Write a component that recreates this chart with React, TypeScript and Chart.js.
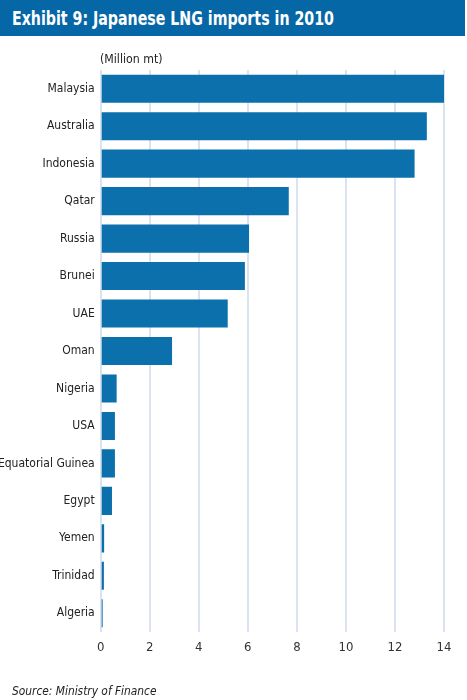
import React, { useEffect, useRef } from 'react';
import { Chart, registerables } from 'chart.js';

Chart.register(...registerables);

const countries = [
  'Malaysia', 'Australia', 'Indonesia', 'Qatar', 'Russia', 'Brunei', 'UAE', 'Oman',
  'Nigeria', 'USA', 'Equatorial Guinea', 'Egypt', 'Yemen', 'Trinidad', 'Algeria',
];
const imports = [14.0, 13.3, 12.8, 7.67, 6.05, 5.88, 5.18, 2.91, 0.65, 0.58, 0.58, 0.46, 0.14, 0.13, 0.08];
const xTicks = [0, 2, 4, 6, 8, 10, 12, 14];

const FONT = "'DejaVu Sans Condensed', 'Liberation Sans Narrow', sans-serif";
const BLUE = '#0b70ab';

function ImportsChart() {
  const chartRef = useRef<HTMLCanvasElement>(null);

  useEffect(() => {
    if (!chartRef.current) return;
    const myChart = new Chart(chartRef.current, {
      type: 'bar',
      data: {
        labels: countries,
        datasets: [{
          data: imports,
          backgroundColor: BLUE,
          borderWidth: 0,
          categoryPercentage: 0.75,
          barPercentage: 1,
        }],
      },
      options: {
        indexAxis: 'y',
        animation: false,
        responsive: false,
        maintainAspectRatio: false,
        layout: { padding: { left: 0, right: 23, top: 70, bottom: 44 } },
        plugins: { legend: { display: false }, tooltip: { enabled: false } },
        scales: {
          x: {
            min: 0,
            max: 14,
            afterBuildTicks: (scale: any) => { scale.ticks = xTicks.map(v => ({ value: v })); },
            afterFit: (scale: any) => { scale.height = 24; },
            grid: { color: '#dae3ef', lineWidth: 2, drawTicks: false },
            border: { display: false },
            ticks: { padding: 8, color: '#333', font: { family: FONT, size: 13 } },
          },
          y: {
            afterFit: (scale: any) => { scale.width = 100.7; },
            grid: { display: false, drawTicks: false },
            border: { display: false },
            ticks: { padding: 6, color: '#222', font: { family: FONT, size: 12 } },
          },
        },
      },
    });
    return () => {
      myChart.destroy();
    };
  }, []);

  return <canvas ref={chartRef} width={467} height={700} style={{ position: 'absolute', left: 0, top: 0 }} />;
}

export default function App() {
  return (
    <div style={{ position: 'absolute', left: 0, top: 0, width: 467, height: 700, background: '#fff', overflow: 'hidden' }}>
      <ImportsChart />
      <div style={{ position: 'absolute', left: 0, top: 0, width: 465, height: 36, background: '#0667a7' }} />
      <div style={{
        position: 'absolute', left: 12, top: 0, height: 36, lineHeight: '36px', whiteSpace: 'nowrap',
        color: '#fff', fontFamily: FONT, fontWeight: 'bold', fontSize: 19,
        transform: 'scaleX(0.83)', transformOrigin: 'left center',
      }}>
        Exhibit 9: Japanese LNG imports in 2010
      </div>
      <div style={{
        position: 'absolute', left: 100, top: 51, fontFamily: FONT, fontSize: 13, color: '#222',
        whiteSpace: 'nowrap', transform: 'scaleX(0.94)', transformOrigin: 'left center',
      }}>
        (Million mt)
      </div>
      <div style={{
        position: 'absolute', left: 12, top: 683, fontFamily: FONT, fontSize: 13, fontStyle: 'italic', color: '#222',
        whiteSpace: 'nowrap', transform: 'scaleX(0.91)', transformOrigin: 'left center',
      }}>
        Source: Ministry of Finance
      </div>
    </div>
  );
}
